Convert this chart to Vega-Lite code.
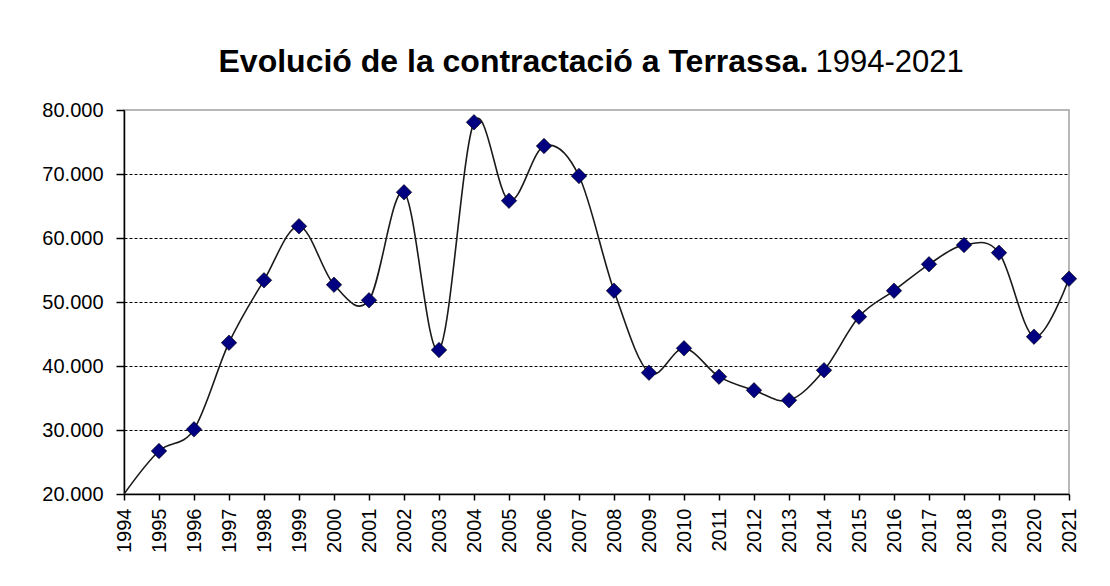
{
  "$schema": "https://vega.github.io/schema/vega-lite/v6.json",
  "autosize": {"type": "none"},
  "width": 945,
  "height": 384,
  "padding": {"left": 124, "top": 110, "right": 41, "bottom": 92},
  "background": "white",
  "data": {
    "values": [
      {"year": 1994, "contractes": 20000},
      {"year": 1995, "contractes": 26720},
      {"year": 1996, "contractes": 30100},
      {"year": 1997, "contractes": 43640},
      {"year": 1998, "contractes": 53390},
      {"year": 1999, "contractes": 61830},
      {"year": 2000, "contractes": 52700},
      {"year": 2001, "contractes": 50260},
      {"year": 2002, "contractes": 67140},
      {"year": 2003, "contractes": 42500},
      {"year": 2004, "contractes": 78080},
      {"year": 2005, "contractes": 65830},
      {"year": 2006, "contractes": 74375},
      {"year": 2007, "contractes": 69690},
      {"year": 2008, "contractes": 51770},
      {"year": 2009, "contractes": 38960},
      {"year": 2010, "contractes": 42760},
      {"year": 2011, "contractes": 38330},
      {"year": 2012, "contractes": 36200},
      {"year": 2013, "contractes": 34640},
      {"year": 2014, "contractes": 39330},
      {"year": 2015, "contractes": 47700},
      {"year": 2016, "contractes": 51770},
      {"year": 2017, "contractes": 55890},
      {"year": 2018, "contractes": 58900},
      {"year": 2019, "contractes": 57700},
      {"year": 2020, "contractes": 44580},
      {"year": 2021, "contractes": 53640}
    ]
  },
  "encoding": {
    "x": {
      "field": "year",
      "type": "quantitative",
      "scale": {"domain": [1994, 2021], "nice": false, "zero": false},
      "axis": {
        "title": "1994-2021",
        "titleAngle": 0,
        "titleAlign": "left",
        "titleBaseline": "alphabetic",
        "titleX": 691,
        "titleY": -423,
        "titleFont": "Liberation Sans",
        "titleFontSize": 31,
        "titleFontWeight": "normal",
        "titleColor": "#000",
        "values": [1994,1995,1996,1997,1998,1999,2000,2001,2002,2003,2004,2005,2006,2007,2008,2009,2010,2011,2012,2013,2014,2015,2016,2017,2018,2019,2020,2021],
        "format": "d",
        "labelAngle": -90,
        "labelAlign": "right",
        "labelBaseline": "middle",
        "labelFont": "Liberation Sans",
        "labelFontSize": 20,
        "labelColor": "#000",
        "labelPadding": 8,
        "tickSize": 6,
        "tickColor": "#000",
        "tickWidth": 1.5,
        "domainColor": "#000",
        "domainWidth": 1.5,
        "grid": false,
        "labelOverlap": false,
        "labelFlush": false
      }
    },
    "y": {
      "field": "contractes",
      "type": "quantitative",
      "scale": {"domain": [20000, 80000], "nice": false, "zero": false},
      "axis": {
        "title": "Evolució de la contractació a Terrassa.",
        "titleAngle": 0,
        "titleAlign": "left",
        "titleBaseline": "alphabetic",
        "titleX": 94,
        "titleY": -39,
        "titleFont": "Liberation Sans",
        "titleFontSize": 32,
        "titleFontWeight": "bold",
        "titleColor": "#000",
        "values": [20000, 30000, 40000, 50000, 60000, 70000, 80000],
        "labelExpr": "replace(format(datum.value, ',d'), ',', '.')",
        "labelFont": "Liberation Sans",
        "labelFontSize": 20,
        "labelColor": "#000",
        "labelPadding": 13,
        "tickSize": 8,
        "tickColor": "#000",
        "tickWidth": 1.5,
        "domainColor": "#000",
        "domainWidth": 1.5,
        "grid": true,
        "gridColor": "#000",
        "gridWidth": 1,
        "gridDash": [3, 2],
        "gridOpacity": {"condition": {"test": "datum.value >= 80000 || datum.value <= 20000", "value": 0}, "value": 1}
      }
    }
  },
  "layer": [
    {
      "mark": {"type": "line", "interpolate": "cardinal", "tension": 0, "color": "#1a1a1a", "strokeWidth": 1.6, "clip": true}
    },
    {
      "transform": [{"filter": "datum.year > 1994"}],
      "mark": {"type": "point", "shape": "diamond", "filled": true, "size": 240, "color": "#000080", "stroke": "#000", "strokeWidth": 0.6, "opacity": 1}
    }
  ],
  "config": {
    "view": {"stroke": "#a0a0a0", "strokeWidth": 1.5}
  }
}
